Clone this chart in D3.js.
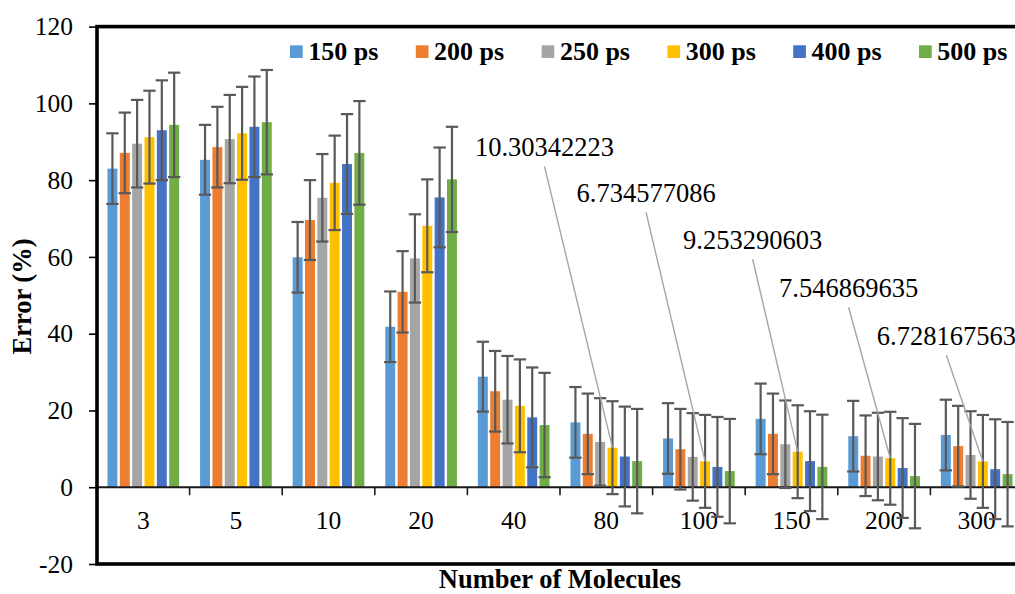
<!DOCTYPE html>
<html>
<head>
<meta charset="utf-8">
<script src="https://cdn.jsdelivr.net/npm/d3@7"></script>
<style>
  body { margin: 0; background: #fff; }
  svg { display: block; }
  text { font-family: "Liberation Serif", "Times New Roman", serif; }
</style>
</head>
<body>
<svg id="chart" width="1015" height="594"></svg>
<script>
// dados (erro % por numero de moleculas)
const CATEGORIES = ["3", "5", "10", "20", "40", "80", "100", "150", "200", "300"];
const SERIES = ["150 ps", "200 ps", "250 ps", "300 ps", "400 ps", "500 ps"];
const COLORS = ["#5B9BD5", "#ED7D31", "#A5A5A5", "#FFC000", "#4472C4", "#70AD47"];

const VAL_150 = [83.0, 85.3, 59.9, 41.8, 28.8, 16.9, 12.7, 17.8, 13.3, 13.6];
const VAL_200 = [87.1, 88.6, 69.6, 50.9, 25.0, 13.9, 9.9, 13.9, 8.2, 10.7];
const VAL_250 = [89.5, 90.7, 75.4, 59.6, 22.8, 11.8, 7.9, 11.2, 8.0, 8.4];
const VAL_300 = [91.2, 92.2, 79.3, 68.1, 21.2, 10.30342223, 6.734577086, 9.253290603, 7.546869635, 6.728167563];
const VAL_400 = [93.0, 93.9, 84.2, 75.5, 18.2, 8.0, 5.3, 6.8, 5.0, 4.7];
const VAL_500 = [94.4, 95.1, 87.1, 80.2, 16.2, 6.8, 4.2, 5.3, 2.9, 3.4];

const ERR_150 = [9.2, 9.1, 9.2, 9.2, 9.1, 9.2, 9.2, 9.2, 9.2, 9.2];
const ERR_200 = [10.5, 10.5, 10.4, 10.6, 10.5, 10.5, 10.5, 10.5, 10.5, 10.5];
const ERR_250 = [11.4, 11.5, 11.4, 11.5, 11.4, 11.4, 11.4, 11.4, 11.4, 11.4];
const ERR_300 = [12.1, 12.1, 12.3, 12.1, 12.1, 12.1, 12.1, 12.1, 12.1, 12.1];
const ERR_400 = [13.0, 13.1, 13.0, 13.0, 13.0, 13.0, 13.0, 13.0, 13.0, 13.0];
const ERR_500 = [13.6, 13.6, 13.5, 13.7, 13.6, 13.6, 13.6, 13.6, 13.6, 13.6];

const VALUES = [VAL_150, VAL_200, VAL_250, VAL_300, VAL_400, VAL_500];
const ERRORS = [ERR_150, ERR_200, ERR_250, ERR_300, ERR_400, ERR_500];

const Y_TICKS = [-20, 0, 20, 40, 60, 80, 100, 120];

// rotulos de dados da serie 300 ps (categorias 80..300)
const LABEL_SERIES = 3;
const LABEL_CATS = ["80", "100", "150", "200", "300"];
// posicao manual dos rotulos: deslocamento em px e altura do texto em unidades do eixo
const LABEL_LAYOUT = [
  { dx: -68, at: 86.2 },
  { dx: -59, at: 74.2 },
  { dx: -45, at: 62.0 },
  { dx: -41.7, at: 49.5 },
  { dx: -36.5, at: 37.0 },
];

const PLOT = { left: 97, right: 1023, top: 26.6, bottom: 564 };
const FONT_TICK = 25.5;
const FONT_LABEL = 26.5;
const FONT_TITLE = 26.5;
const SERIF = "Liberation Serif, Times New Roman, serif";

const svg = d3.select("#chart");
svg.append("rect").attr("width", 1015).attr("height", 594).attr("fill", "#fff");

const x0 = d3.scaleBand().domain(CATEGORIES).range([PLOT.left, PLOT.right]).paddingInner(0.2).paddingOuter(0.1);
const x1 = d3.scaleBand().domain(SERIES).range([0, x0.bandwidth()]);
const y = d3.scaleLinear().domain([-20, 120]).range([PLOT.bottom, PLOT.top]);

const bandStart = (c) => x0(c) - (x0.step() * x0.paddingInner()) / 2;
const barCenter = (c, s) => x0(c) + x1(s) + x1.bandwidth() / 2;

// barras
const rows = [];
SERIES.forEach((s, si) => {
  CATEGORIES.forEach((c, ci) => {
    rows.push({ s, si, c, v: VALUES[si][ci], e: ERRORS[si][ci] });
  });
});

const inset = 1.2;
svg
  .append("g")
  .selectAll("rect")
  .data(rows)
  .join("rect")
  .attr("x", (d) => x0(d.c) + x1(d.s) + inset)
  .attr("width", x1.bandwidth() - inset * 2)
  .attr("y", (d) => y(d.v))
  .attr("height", (d) => y(0) - y(d.v))
  .attr("fill", (d) => COLORS[d.si]);

// eixo x no zero
const zeroY = y(0);
svg
  .append("line")
  .attr("x1", PLOT.left)
  .attr("x2", PLOT.right)
  .attr("y1", zeroY)
  .attr("y2", zeroY)
  .attr("stroke", "#1a1a1a")
  .attr("stroke-width", 2);

svg
  .append("g")
  .selectAll("line")
  .data(CATEGORIES.slice(1))
  .join("line")
  .attr("x1", (c) => bandStart(c))
  .attr("x2", (c) => bandStart(c))
  .attr("y1", zeroY)
  .attr("y2", zeroY + 8)
  .attr("stroke", "#1a1a1a")
  .attr("stroke-width", 1.6);

const xAxis = svg
  .append("g")
  .attr("transform", `translate(0,${zeroY})`)
  .call(d3.axisBottom(x0).tickSize(0).tickPadding(24));
xAxis.select(".domain").remove();
xAxis.selectAll("text").attr("fill", "#000").style("font-size", `${FONT_TICK}px`).style("font-family", SERIF);

// barras de erro
const errG = svg.append("g").attr("stroke", "#595959").attr("stroke-width", 2.2).attr("fill", "none");
const capW = x1.bandwidth() / 2;
rows.forEach((d) => {
  const cx = barCenter(d.c, d.s);
  const yTop = y(d.v + d.e);
  const yBot = y(d.v - d.e);
  errG.append("line").attr("x1", cx).attr("x2", cx).attr("y1", yTop).attr("y2", yBot);
  errG.append("line").attr("x1", cx - capW).attr("x2", cx + capW).attr("y1", yTop).attr("y2", yTop);
  errG.append("line").attr("x1", cx - capW).attr("x2", cx + capW).attr("y1", yBot).attr("y2", yBot);
});

// eixo y (rotulos com hifen simples como no original)
const yAxis = svg
  .append("g")
  .attr("transform", `translate(${PLOT.left},0)`)
  .call(
    d3
      .axisLeft(y)
      .tickValues(Y_TICKS)
      .tickFormat((d) => String(d))
      .tickSize(8)
      .tickSizeOuter(0)
      .tickPadding(16),
  );
yAxis.select(".domain").remove();
yAxis.selectAll("line").attr("stroke", "#000").attr("stroke-width", 1.6);
yAxis.selectAll("text").attr("fill", "#000").style("font-size", `${FONT_TICK}px`).style("font-family", SERIF);

// borda da area de plotagem
svg
  .append("rect")
  .attr("x", PLOT.left)
  .attr("y", PLOT.top)
  .attr("width", PLOT.right - PLOT.left)
  .attr("height", PLOT.bottom - PLOT.top)
  .attr("fill", "none")
  .attr("stroke", "#000")
  .attr("stroke-width", 3.6);

// rotulos com linhas de chamada
const labelG = svg.append("g");
LABEL_CATS.forEach((c, i) => {
  const ci = CATEGORIES.indexOf(c);
  const v = VALUES[LABEL_SERIES][ci];
  const bx = barCenter(c, SERIES[LABEL_SERIES]);
  const by = y(v);
  const lx = bx + LABEL_LAYOUT[i].dx;
  const ly = y(LABEL_LAYOUT[i].at);
  labelG
    .append("line")
    .attr("x1", lx)
    .attr("y1", ly + 10)
    .attr("x2", bx)
    .attr("y2", by)
    .attr("stroke", "#a6a6a6")
    .attr("stroke-width", 1.4);
  labelG
    .append("text")
    .attr("x", lx)
    .attr("y", ly)
    .attr("text-anchor", "middle")
    .attr("font-size", FONT_LABEL)
    .attr("fill", "#000")
    .text(String(v));
});

// legenda
const legend = svg.append("g").attr("transform", "translate(290,45.3)");
SERIES.forEach((s, i) => {
  const g = legend.append("g").attr("transform", `translate(${i * 125.8},0)`);
  g.append("rect").attr("width", 12.7).attr("height", 12.7).attr("fill", COLORS[i]);
  g.append("text")
    .attr("x", 18.3)
    .attr("y", 14.2)
    .attr("font-size", 26)
    .attr("font-weight", 700)
    .attr("fill", "#000")
    .text(s);
});

// titulos
svg
  .append("text")
  .attr("transform", "translate(30.5,296.5) rotate(-90)")
  .attr("text-anchor", "middle")
  .attr("font-size", FONT_TITLE)
  .attr("font-weight", 700)
  .attr("fill", "#000")
  .text("Error (%)");

svg
  .append("text")
  .attr("x", (PLOT.left + PLOT.right) / 2)
  .attr("y", 588)
  .attr("text-anchor", "middle")
  .attr("font-size", FONT_TITLE)
  .attr("font-weight", 700)
  .attr("fill", "#000")
  .text("Number of Molecules");
</script>
</body>
</html>
